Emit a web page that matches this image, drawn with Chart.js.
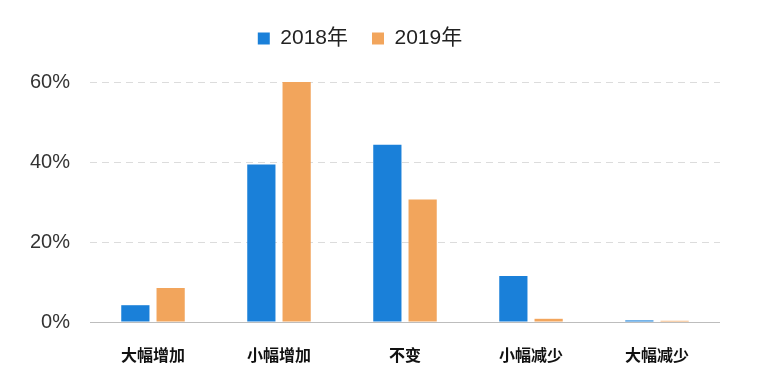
<!DOCTYPE html>
<html>
<head>
<meta charset="utf-8">
<script src="https://cdn.jsdelivr.net/npm/chart.js@4"></script>
<style>
  body { margin: 0; background: #fff; }
  #wrap { width: 764px; height: 366px; }
</style>
</head>
<body>
<div id="wrap"><canvas id="changeChart"></canvas></div>
<script>
const categories = ["大幅增加", "小幅增加", "不变", "小幅减少", "大幅减少"];
const values2018 = [4.2, 39.4, 44.3, 11.5, 0.4];
const values2019 = [8.5, 60.0, 30.6, 0.8, 0.3];
const yTicks = [0, 20, 40, 60];

const latinFont = "'Liberation Sans', 'Noto Sans CJK SC', sans-serif";
const cjkFont = "'Noto Sans CJK SC', 'Noto Sans', sans-serif";

let changeData = {
    labels: categories,
    datasets: [{
        label: '2018年',
        data: values2018,
        backgroundColor: '#1a80d9',
        categoryPercentage: 0.56,
        barPercentage: 0.8
    }, {
        label: '2019年',
        data: values2019,
        backgroundColor: '#f2a55c',
        categoryPercentage: 0.56,
        barPercentage: 0.8
    }]
};

// push the plot area down below the legend
const legendGap = {
    id: 'legendGap',
    beforeInit(chart) {
        const fit = chart.legend.fit;
        chart.legend.fit = function () {
            fit.bind(chart.legend)();
            this.height += 23;
        };
    }
};

let changeOptions = {
    responsive: true,
    maintainAspectRatio: false,
    animation: false,
    layout: {
        padding: { left: 0, right: 44, top: 4, bottom: 0 }
    },
    scales: {
        x: {
            afterFit: (axis) => { axis.height = 44; },
            grid: { display: false },
            border: { display: false },
            ticks: {
                color: '#111',
                padding: 15,
                font: { family: cjkFont, size: 16, weight: 'bold' }
            }
        },
        y: {
            min: 0,
            max: 60,
            afterBuildTicks: (axis) => { axis.ticks = yTicks.map(v => ({ value: v })); },
            afterFit: (axis) => { axis.width = 90; },
            grid: {
                drawTicks: false,
                color: (ctx) => ctx.tick && ctx.tick.value === 0 ? '#bdbdbd' : '#dcdcdc',
                lineWidth: 1
            },
            border: {
                display: false,
                dash: (ctx) => ctx.tick && ctx.tick.value === 0 ? [] : [7, 5]
            },
            ticks: {
                color: '#333',
                padding: 20,
                font: { family: latinFont, size: 20 },
                callback: (v) => v + '%'
            }
        }
    },
    plugins: {
        legend: {
            position: 'top',
            labels: {
                boxWidth: 12,
                boxHeight: 12,
                padding: 24,
                color: '#222',
                font: { family: latinFont, size: 21 }
            }
        },
        tooltip: { enabled: false }
    }
};

let changeChart = new Chart(document.getElementById('changeChart'), {
    type: 'bar',
    data: changeData,
    options: changeOptions,
    plugins: [legendGap]
});
</script>
</body>
</html>
